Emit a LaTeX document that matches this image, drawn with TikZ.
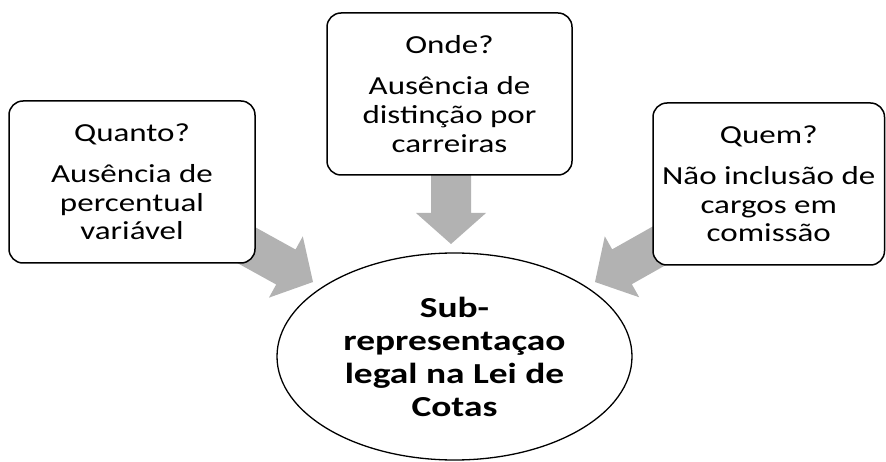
\documentclass[tikz,border=0pt]{standalone}
\usepackage{fontspec}
\setmainfont{Carlito}
\newfontfamily\boxfont{Carlito}[FakeStretch=1.27]
\newfontfamily\ovalfont{Carlito}[FakeStretch=1.29]
\usetikzlibrary{calc,backgrounds,shapes.geometric}
\definecolor{arrowfill}{RGB}{178,178,178}
% block arrow: #1 name, #2 start, #3 tip
\newcommand\blkarrow[3]{%
  \coordinate (#1-b) at ($(#3)!31pt!(#2)$);
  \fill[arrowfill] ($(#2)!20pt!90:(#3)$) -- ($(#1-b)!20pt!90:(#3)$) -- ($(#1-b)!35pt!90:(#3)$)
    -- (#3) -- ($(#1-b)!35pt!-90:(#3)$) -- ($(#1-b)!20pt!-90:(#3)$) -- ($(#2)!20pt!-90:(#3)$) -- cycle;
}
\begin{document}
\begin{tikzpicture}[x=1pt,y=-1pt,
  box/.style={draw, line width=1.5pt, rounded corners=14pt, fill=white, align=center,
    inner sep=0pt, minimum height=162pt, font=\boxfont\fontsize{26}{28.7}\selectfont},
  oval/.style={draw, ellipse, line width=1.3pt, fill=white, minimum width=355pt, minimum height=207pt,
    inner sep=0pt, align=center, font=\ovalfont\fontsize{29}{33}\selectfont\bfseries}]
\useasboundingbox (0,0) rectangle (886,462);
\node[box, minimum width=246pt] (L) at (132,182) {Quanto?\\[12.3pt]Ausência de\\percentual\\variável};
\node[box, minimum width=245pt] (M) at (449.5,94) {Onde?\\[12.3pt]Ausência de\\distinção por\\carreiras};
\node[box, minimum width=231.5pt] (R) at (768.75,184) {Quem?\\[12.3pt]Não inclusão de\\cargos em\\comissão};
\node[oval] (E) at (454.5,356.5) {Sub-\\representaçao\\legal na Lei de\\Cotas};
\coordinate (ltip) at (313,282);
\coordinate (mstart) at (451,100);
\coordinate (mtip) at (451,244);
\coordinate (rtip) at (595,282);
\begin{scope}[on background layer]
  \blkarrow{la}{L.center}{ltip}
  \blkarrow{ma}{mstart}{mtip}
  \blkarrow{ra}{R.center}{rtip}
\end{scope}
\end{tikzpicture}
\end{document}
